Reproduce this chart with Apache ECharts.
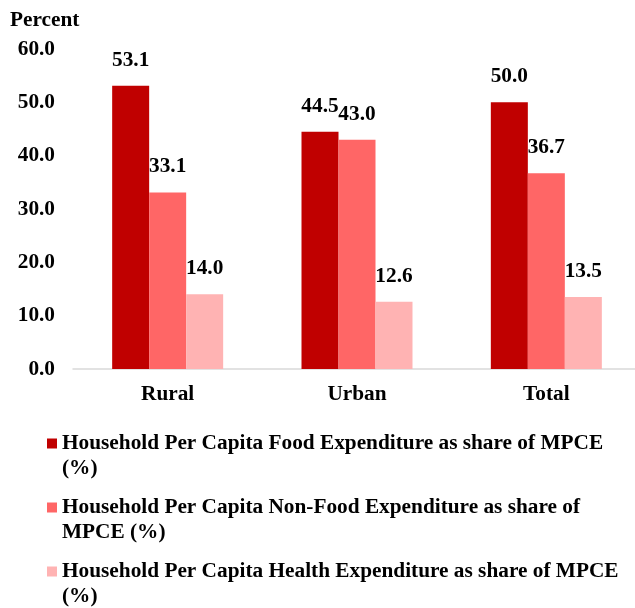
<!DOCTYPE html>
<html>
<head>
<meta charset="utf-8">
<script src="https://cdn.jsdelivr.net/npm/echarts@6/dist/echarts.min.js"></script>
<style>
html,body{margin:0;padding:0;background:#fff;}
#c{width:635px;height:608px;}
</style>
</head>
<body>
<div id="c"></div>
<script>
const categories = ['Rural', 'Urban', 'Total'];
const foodShare = [53.1, 44.5, 50.0];
const nonFoodShare = [33.1, 43.0, 36.7];
const healthShare = [14.0, 12.6, 13.5];
const seriesNames = [
  'Household Per Capita Food Expenditure as share of MPCE (%)',
  'Household Per Capita Non-Food Expenditure as share of MPCE (%)',
  'Household Per Capita Health Expenditure as share of MPCE (%)'
];
const legendLines = {
  'Household Per Capita Food Expenditure as share of MPCE (%)': ['Household Per Capita Food Expenditure as share of MPCE', '(%)'],
  'Household Per Capita Non-Food Expenditure as share of MPCE (%)': ['Household Per Capita Non-Food Expenditure as share of', 'MPCE (%)'],
  'Household Per Capita Health Expenditure as share of MPCE (%)': ['Household Per Capita Health Expenditure as share of MPCE', '(%)']
};
const yTicks = [0, 10, 20, 30, 40, 50, 60];
const colors = ['#C00000', '#FF6666', '#FFB3B3'];

const FONT = '"Liberation Serif", "Times New Roman", serif';
const FS = 21.3;
const chart = echarts.init(document.getElementById('c'), null, {renderer: 'canvas'});
const labelStyle = {
  show: true, position: 'top', distance: 15,
  fontFamily: FONT, fontWeight: 'bold', fontSize: FS, color: '#000',
  formatter: p => p.value.toFixed(1)
};
const values = [foodShare, nonFoodShare, healthShare];
chart.setOption({
  animation: false,
  backgroundColor: '#fff',
  title: {
    text: 'Percent', left: 5, top: 5,
    textStyle: {fontFamily: FONT, fontWeight: 'bold', fontSize: FS, color: '#000'}
  },
  grid: {left: 73, width: 568, top: 49, bottom: 239, containLabel: false, outerBoundsMode: 'none'},
  xAxis: {
    type: 'category', data: categories,
    axisLine: {lineStyle: {color: '#D9D9D9', width: 1.5}},
    axisTick: {show: false},
    axisLabel: {fontFamily: FONT, fontWeight: 'bold', fontSize: FS, color: '#000', margin: 15}
  },
  yAxis: {
    type: 'value', min: yTicks[0], max: yTicks[yTicks.length - 1], interval: 10,
    splitLine: {show: false}, axisLine: {show: false}, axisTick: {show: false},
    axisLabel: {fontFamily: FONT, fontWeight: 'bold', fontSize: FS, color: '#000', margin: 18,
      formatter: v => v.toFixed(1)}
  },
  legend: {
    orient: 'vertical', left: 47, top: 406, height: 300, padding: 0,
    itemWidth: 10, itemHeight: 10, itemGap: -11,
    icon: 'rect',
    data: seriesNames,
    formatter: n => '\n' + legendLines[n].join('\n'),
    textStyle: {fontFamily: FONT, fontWeight: 'bold', fontSize: FS, lineHeight: 25, color: '#000'}
  },
  series: seriesNames.map((n, i) => ({
    name: n, type: 'bar', data: values[i],
    barWidth: 37, barGap: '0%',
    itemStyle: {color: colors[i]},
    label: labelStyle
  }))
});
</script>
</body>
</html>
